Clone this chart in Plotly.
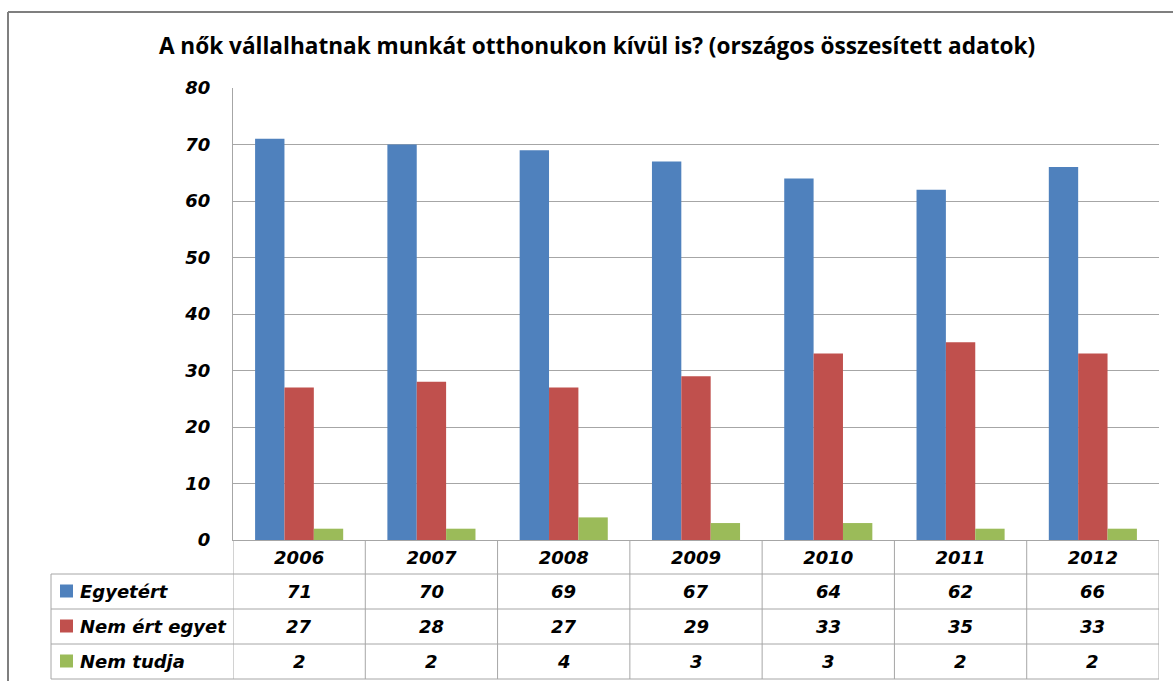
import plotly.graph_objects as go

years = ["2006", "2007", "2008", "2009", "2010", "2011", "2012"]
egyetert = [71, 70, 69, 67, 64, 62, 66]
nem_ert = [27, 28, 27, 29, 33, 35, 33]
nem_tudja = [2, 2, 4, 3, 3, 2, 2]
series_names = ["Egyetért", "Nem ért egyet", "Nem tudja"]
colors = ["#4F81BD", "#C0504D", "#9BBB59"]
title = "A nők vállalhatnak munkát otthonukon kívül is? (országos összesített adatok)"

W, H = 1173, 681
L, R, T, B = 233, 14, 88, 0
PH = H - T - B
PW = W - L - R


def py(pix):
    return (H - B - pix) / PH


def px(pix):
    return (pix - L) / PW


Y0 = 540  # pixel row of value 0
ydom0 = py(Y0)
FS = 18
txt_font = dict(family="DejaVu Sans", size=FS, color="#000", weight="bold", style="italic")

fig = go.Figure()
for name, vals, col in zip(series_names, [egyetert, nem_ert, nem_tudja], colors):
    fig.add_trace(go.Bar(x=years, y=vals, name=name, marker=dict(color=col, line=dict(width=0)),
                         showlegend=False))

n = len(years)
fig.update_layout(
    width=W, height=H,
    margin=dict(l=L, r=R, t=T, b=B, pad=0, autoexpand=False),
    paper_bgcolor="white", plot_bgcolor="white",
    barmode="group", bargap=0.334, bargroupgap=0,
    title=dict(text="<b>" + title + "</b>", x=(157 + 1037) / 2 / W, xanchor="center",
               y=1 - 46 / H, yanchor="middle",
               font=dict(family="Open Sans", size=22.6, color="#000")),
    yaxis=dict(range=[0, 80], dtick=10, domain=[ydom0, 1], showgrid=True, gridcolor="#a6a6a6",
               gridwidth=1, zeroline=False, showline=True, linecolor="#a6a6a6", linewidth=1,
               ticks="", ticklabelstandoff=18, tickfont=txt_font, automargin=False,
               tickvals=list(range(0, 81, 10)), ticktext=[str(v) for v in range(0, 81, 10)]),
    xaxis=dict(type="category", categoryorder="array", categoryarray=years, range=[-0.5, n - 0.5],
               showgrid=False, zeroline=False, showline=True, linecolor="#a6a6a6", automargin=False,
               linewidth=1, ticks="", ticklabelstandoff=1, tickfont=txt_font, anchor="y"),
)

shapes = []
tbl_col = "#a6a6a6"
row_lines = [574, 609, 644, 679]
# horizontal table lines
for r in row_lines:
    shapes.append(dict(type="line", xref="paper", yref="paper", x0=px(51), x1=1, y0=py(r), y1=py(r),
                       line=dict(color=tbl_col, width=1)))
# vertical table lines
for i in range(n + 1):
    shapes.append(dict(type="line", xref="x", yref="paper", x0=i - 0.5, x1=i - 0.5,
                       y0=py(Y0), y1=py(679), line=dict(color=tbl_col, width=1)))
shapes.append(dict(type="line", xref="paper", yref="paper", x0=px(51), x1=px(51),
                   y0=py(574), y1=py(679), line=dict(color=tbl_col, width=1)))
# outer chart border
shapes.append(dict(type="line", xref="paper", yref="paper", x0=px(8), x1=px(8),
                   y0=py(12), y1=py(H + 5), line=dict(color="#7f7f7f", width=2)))
shapes.append(dict(type="line", xref="paper", yref="paper", x0=px(8), x1=px(W + 5),
                   y0=py(12), y1=py(12), line=dict(color="#7f7f7f", width=2)))

annotations = []
row_centers = [(574 + 609) / 2, (609 + 644) / 2, (644 + 679) / 2]
for name, vals, col, rc in zip(series_names, [egyetert, nem_ert, nem_tudja], colors, row_centers):
    shapes.append(dict(type="rect", xref="paper", yref="paper", x0=px(60), x1=px(73),
                       y0=py(rc + 6), y1=py(rc - 7), fillcolor=col, line=dict(width=0)))
    annotations.append(dict(xref="paper", yref="paper", x=px(78), y=py(rc), xanchor="left",
                            yanchor="middle", showarrow=False, text=name, font=txt_font))
    for i, v in enumerate(vals):
        annotations.append(dict(xref="x", yref="paper", x=i, y=py(rc), xanchor="center",
                                yanchor="middle", showarrow=False, text=str(v), font=txt_font))

fig.update_layout(shapes=shapes, annotations=annotations)

fig.write_html("out.html", config={"displayModeBar": False},
               post_script="document.body.style.margin='0';document.body.style.overflow='hidden';")
